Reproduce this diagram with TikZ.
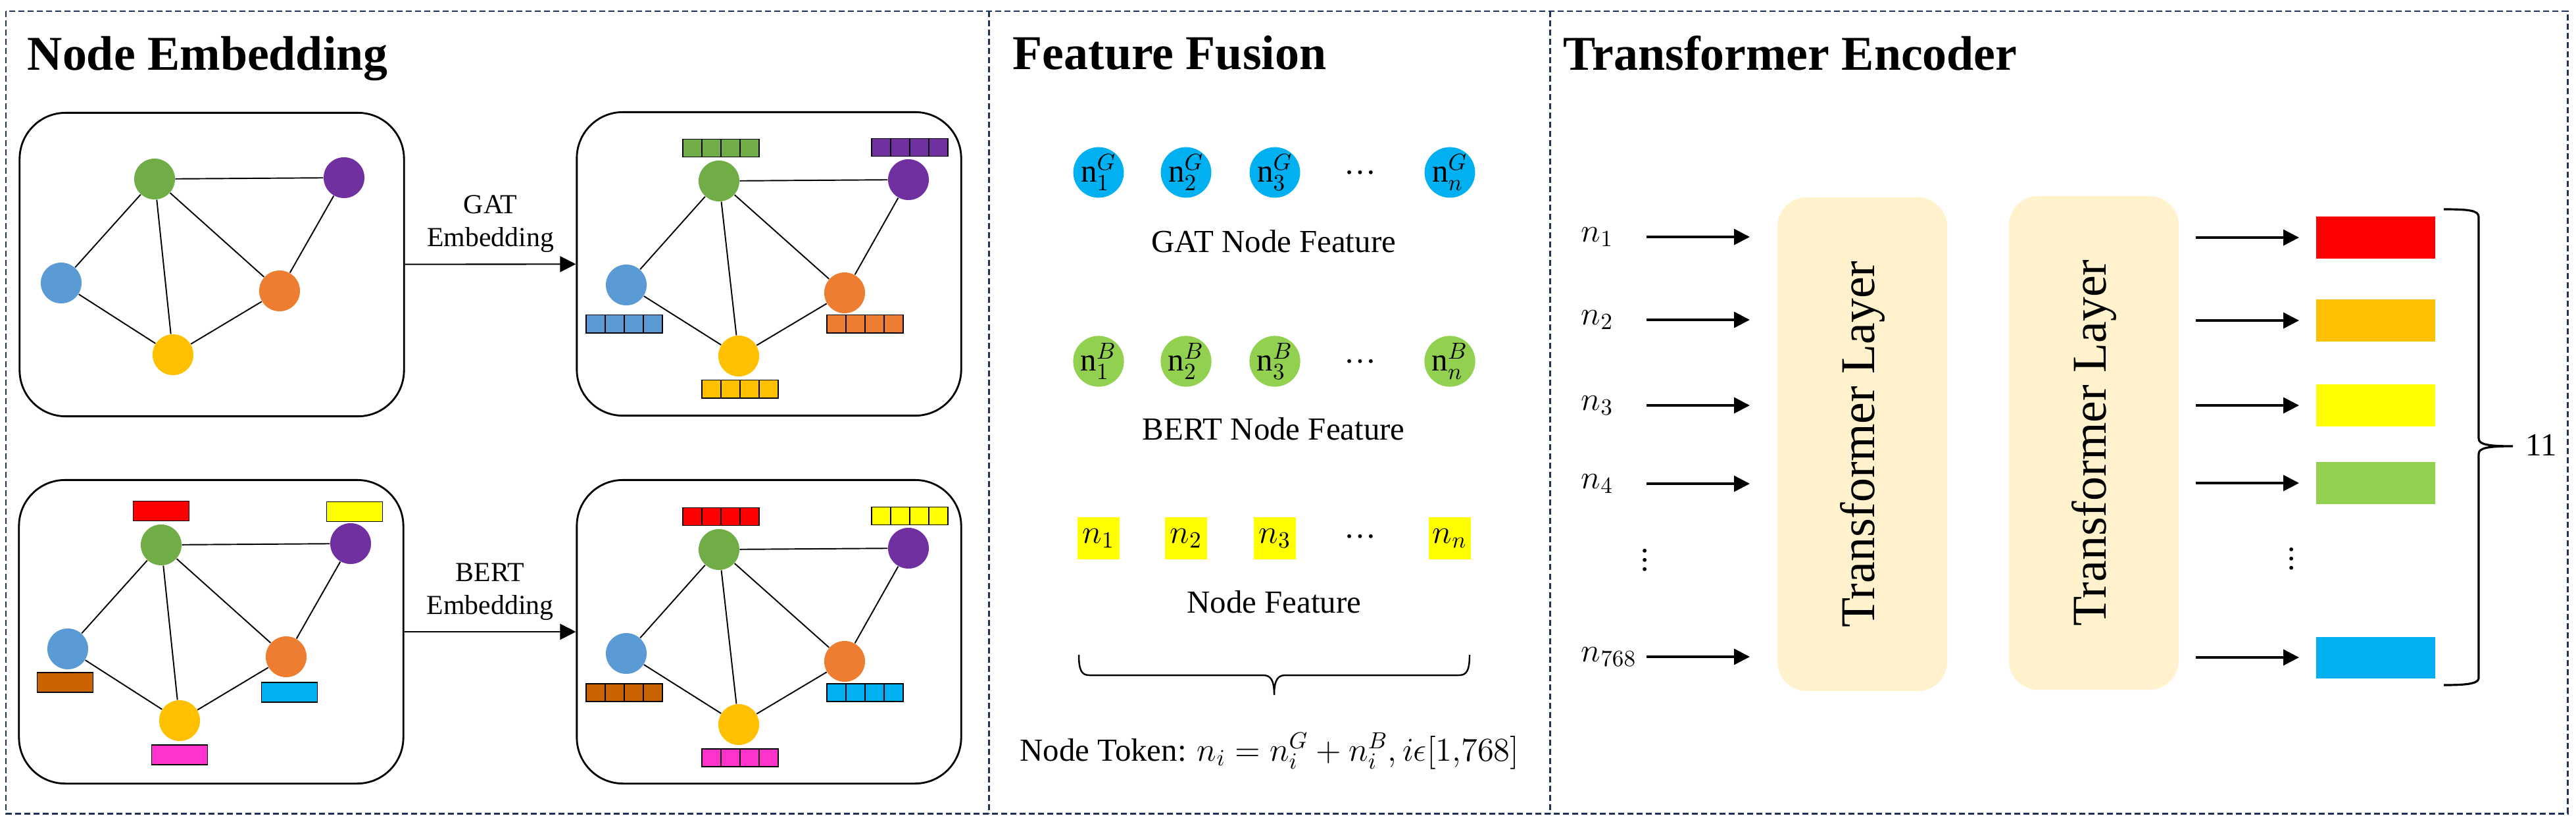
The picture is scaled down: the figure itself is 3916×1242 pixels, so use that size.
\documentclass[tikz,border=0pt]{standalone}
\usepackage{fontspec}
\setmainfont{Liberation Serif}
\usetikzlibrary{arrows.meta,positioning}

\definecolor{navy}{RGB}{31,50,86}
\definecolor{ggreen}{HTML}{70AD47}
\definecolor{gpurple}{HTML}{7030A0}
\definecolor{gblue}{HTML}{5B9BD5}
\definecolor{gorange}{HTML}{ED7D31}
\definecolor{ggold}{HTML}{FFC000}
\definecolor{bred}{HTML}{FF0000}
\definecolor{byellow}{HTML}{FFFF00}
\definecolor{bbrown}{HTML}{C96200}
\definecolor{bcyan}{HTML}{00B0F0}
\definecolor{bpink}{HTML}{FF33CC}
\definecolor{lgreen}{HTML}{92D050}
\definecolor{layerc}{HTML}{FFF2CC}

\begin{document}
\begin{tikzpicture}
  [x=0.01cm, y=-0.01cm,
  panel/.style={draw=navy, line width=0.85pt, dash pattern=on 0.09cm off 0.05cm},
  title/.style={anchor=base west, inner sep=0pt, font=\fontsize{21}{25}\selectfont\bfseries},
  graph/.style={draw, line width=0.8pt, rounded corners=0.7cm,
    minimum width=5.84cm, minimum height=4.61cm},
  vert/.style={circle, inner sep=0pt, minimum size=0.62cm},
  edge/.style={line width=0.55pt},
  vecbar/.style={draw, line width=0.5pt, inner sep=0pt, minimum width=1.16cm, minimum height=0.27cm,
    path picture={\foreach \q in {-0.29,0,0.29}
      \draw[line width=0.5pt] ([xshift=\q cm]path picture bounding box.north)
        -- ([xshift=\q cm]path picture bounding box.south);}},
  onebar/.style={draw, line width=0.5pt, inner sep=0pt, minimum width=0.85cm, minimum height=0.30cm},
  embed/.style={-{Triangle[length=0.24cm, width=0.24cm]}, line width=0.6pt},
  flow/.style={-{Triangle[length=0.24cm, width=0.24cm]}, line width=1pt},
  small/.style={font=\fontsize{11.9}{14.2}\selectfont},
  text13/.style={font=\fontsize{13.9}{16.7}\selectfont},
  text14/.style={font=\fontsize{14}{16.8}\selectfont},
  feat/.style={circle, inner sep=0pt, minimum size=0.63cm, text13},
  token/.style={fill=byellow, inner sep=0pt, minimum width=0.64cm, minimum height=0.63cm, text13},
  layer/.style={fill=layerc, rounded corners=0.45cm, minimum width=7.5cm, minimum height=2.58cm,
    rotate=90, font=\fontsize{21}{25}\selectfont},
  outbar/.style={inner sep=0pt, minimum width=1.81cm, minimum height=0.63cm}]

  \useasboundingbox (0,0) rectangle (3916,1242);

  % panels
  \draw[panel] (9,17) rectangle (3903,1236);
  \draw[panel] (1503,17) -- (1503,1236);
  \draw[panel] (2356,17) -- (2356,1236);

  % node embedding
  \node[title] (netitle) at (41,106) {Node Embedding};

  \node[graph] (box1) at (322,402) {};
  \node[graph] (box2) at (1169,401) {};
  \node[graph] (box3) at (321,960) {};
  \node[graph] (box4) at (1169,960) {};

  \foreach \k/\sx/\sy in {1/0/0, 3/10/556} {
    \begin{scope}[shift={(\sx,\sy)}]
      \node[vert, fill=ggreen] (green\k) at (235,272) {};
      \node[vert, fill=gpurple] (purple\k) at (523,270) {};
      \node[vert, fill=gblue] (blue\k) at (93,430) {};
      \node[vert, fill=gorange] (orange\k) at (425,442) {};
      \node[vert, fill=ggold] (gold\k) at (263,539) {};
    \end{scope}
  }
  \foreach \k/\sy in {2/0, 4/560} {
    \begin{scope}[shift={(0,\sy)}]
      \node[vert, fill=ggreen] (green\k) at (1093,275) {};
      \node[vert, fill=gpurple] (purple\k) at (1381,273) {};
      \node[vert, fill=gblue] (blue\k) at (952,433) {};
      \node[vert, fill=gorange] (orange\k) at (1284,445) {};
      \node[vert, fill=ggold] (gold\k) at (1123,541) {};
    \end{scope}
  }

  \foreach \k in {1,...,4}
    \foreach \a/\b in {green/purple, green/blue, green/gold, green/orange,
                       purple/orange, blue/gold, orange/gold}
      \draw[edge] (\a\k) -- (\b\k);

  % feature vectors
  \foreach \k/\ca/\cb/\cc/\cd/\ce in {2/ggreen/gpurple/gblue/gorange/ggold,
                                      4/bred/byellow/bbrown/bcyan/bpink} {
    \node[vecbar, fill=\ca, above=0.04cm of green\k, xshift=0.03cm] (vgreen\k) {};
    \node[vecbar, fill=\cb, above=0.03cm of purple\k, xshift=0.02cm] (vpurple\k) {};
    \node[vecbar, fill=\cc, below=0.13cm of blue\k, xshift=-0.03cm] (vblue\k) {};
    \node[vecbar, fill=\cd, below=0.01cm of orange\k, xshift=0.31cm] (vorange\k) {};
    \node[vecbar, fill=\ce, below=0.04cm of gold\k, xshift=0.02cm] (vgold\k) {};
  }
  \node[onebar, fill=bred, above=0.04cm of green3] (vgreen3) {};
  \node[onebar, fill=byellow, above=0.01cm of purple3, xshift=0.06cm] (vpurple3) {};
  \node[onebar, fill=bbrown, below=0.03cm of blue3, xshift=-0.04cm] (vblue3) {};
  \node[onebar, fill=bcyan, below=0.06cm of orange3, xshift=0.05cm] (vorange3) {};
  \node[onebar, fill=bpink, below=0.04cm of gold3] (vgold3) {};

  \draw[embed] (box1) -- node[above=0.05cm, small, align=center] (gatemb) {GAT\\Embedding} (box2);
  \draw[embed] (box3) -- node[above=0.05cm, small, align=center] (bertemb) {BERT\\Embedding} (box4);

  % feature fusion
  \node[title] (fftitle) at (1539,105) {Feature Fusion};

  \foreach \x/\i in {1670/1, 1803/2, 1938/3, 2204/n} {
    \node[feat, fill=bcyan] (gat\i) at (\x,262) {$\mathrm{n}_{\i}^{G}$};
    \node[feat, fill=lgreen] (bert\i) at (\x,549) {$\mathrm{n}_{\i}^{B}$};
    \node[token] (tok\i) at (\x,818) {$n_{\i}$};
  }
  \foreach \y/\nm in {262/gat, 549/bert, 815/tok}
    \node[text13] (\nm dots) at (2068,\y) {…};

  \node[text13, anchor=base] (gatlbl) at (1936,383) {GAT Node Feature};
  \node[text13, anchor=base] (bertlbl) at (1936,668) {BERT Node Feature};
  \node[text13, anchor=base] (toklbl) at (1937,931) {Node Feature};

  \draw[line width=0.7pt] (1640,995) .. controls (1640,1018) and (1644,1026) .. (1656,1026)
    -- (1920,1026) .. controls (1932,1026) and (1937,1034) .. (1937,1056)
    .. controls (1937,1034) and (1942,1026) .. (1954,1026)
    -- (2218,1026) .. controls (2230,1026) and (2234,1018) .. (2234,995);

  \node[text13, anchor=base] (formula) at (1930,1156)
    {Node Token: $n_i=n_i^G+n_i^B, i\epsilon[1{,}768]$};

  % transformer encoder
  \node[title] (tetitle) at (2376,106) {Transformer Encoder};

  \node[layer] (layer1) at (2831,675) {Transformer Layer};
  \node[layer] (layer2) at (3183,673) {Transformer Layer};

  \foreach \y/\i in {360/1, 486/2, 616/3, 735/4, 998/768} {
    \node[text14, anchor=west, inner sep=0pt] (in\i) at (2403,\y) {$n_{\i}$};
    \coordinate (ia\i) at (2503,\y);
    \coordinate (ib\i) at (2660,\y);
    \draw[flow] (ia\i) -- (ib\i);
  }
  \node[text14] (invdots) at (2501,841) {$\vdots$};

  \foreach \y/\c/\i in {361/bred/1, 487/ggold/2, 616/byellow/3, 734/lgreen/4, 999/bcyan/5} {
    \coordinate (oa\i) at (3338,\y);
    \coordinate (ob\i) at (3495,\y);
    \draw[flow] (oa\i) -- (ob\i);
    \node[outbar, fill=\c] (out\i) at (3611,\y) {};
  }
  \node[text14] (outvdots) at (3484,839) {$\vdots$};

  \draw[line width=0.9pt] (3715,318) .. controls (3755,318) and (3768,320) .. (3768,330)
    -- (3768,666) .. controls (3768,675) and (3780,678) .. (3820,678)
    .. controls (3780,678) and (3768,681) .. (3768,690)
    -- (3768,1030) .. controls (3768,1038) and (3755,1041) .. (3715,1041);
  \node[text13, anchor=base west, inner sep=0pt] (eleven) at (3839,692) {11};

\end{tikzpicture}
\end{document}
